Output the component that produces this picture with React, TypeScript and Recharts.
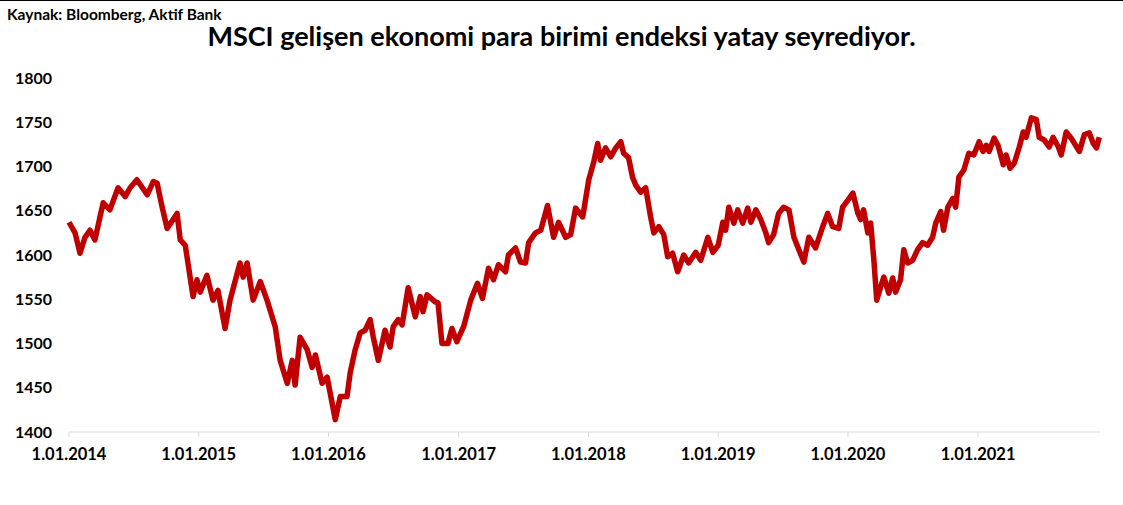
import { LineChart, Line, XAxis, YAxis } from "recharts"

const dates = [
  "2014-01-01", "2014-01-18", "2014-02-01", "2014-02-15", "2014-03-01", "2014-03-15", "2014-04-07", "2014-04-26",
  "2014-05-19", "2014-06-08", "2014-06-22", "2014-07-11", "2014-08-09", "2014-08-26", "2014-09-06", "2014-09-20",
  "2014-10-04", "2014-11-01", "2014-11-10", "2014-11-24", "2014-12-16", "2014-12-27",
  "2015-01-05", "2015-01-24", "2015-02-10", "2015-02-24", "2015-03-16", "2015-03-30", "2015-04-13", "2015-04-27",
  "2015-05-06", "2015-05-17", "2015-06-03", "2015-06-23", "2015-07-12", "2015-08-04", "2015-08-18", "2015-09-07",
  "2015-09-21", "2015-09-29", "2015-10-13", "2015-11-02", "2015-11-16", "2015-11-25", "2015-12-14", "2015-12-28",
  "2016-01-20", "2016-02-03", "2016-02-22", "2016-03-02", "2016-03-16", "2016-03-30", "2016-04-13", "2016-04-27",
  "2016-05-06", "2016-05-20", "2016-06-08", "2016-06-22", "2016-07-01", "2016-07-15", "2016-07-26", "2016-08-12",
  "2016-09-01", "2016-09-15", "2016-09-23", "2016-10-04", "2016-10-27", "2016-11-04", "2016-11-15", "2016-12-02",
  "2016-12-13", "2016-12-27",
  "2017-01-15", "2017-02-04", "2017-02-23", "2017-03-09", "2017-03-26", "2017-04-09", "2017-04-23", "2017-05-13",
  "2017-05-21", "2017-06-10", "2017-06-24", "2017-07-08", "2017-07-17", "2017-08-05", "2017-08-20", "2017-09-08",
  "2017-09-25", "2017-10-09", "2017-10-29", "2017-11-12", "2017-11-26", "2017-12-16",
  "2018-01-02", "2018-01-16", "2018-01-27", "2018-02-04", "2018-02-18", "2018-03-05", "2018-03-19", "2018-04-02",
  "2018-04-10", "2018-04-24", "2018-05-05", "2018-05-14", "2018-05-28", "2018-06-11", "2018-06-25", "2018-07-04",
  "2018-07-18", "2018-08-01", "2018-08-12", "2018-08-26", "2018-09-09", "2018-09-26", "2018-10-10", "2018-10-30",
  "2018-11-13", "2018-12-03", "2018-12-17",
  "2019-01-01", "2019-01-14", "2019-01-22", "2019-01-31", "2019-02-14", "2019-02-25", "2019-03-11", "2019-03-25",
  "2019-04-03", "2019-04-17", "2019-05-01", "2019-05-15", "2019-05-23", "2019-06-06", "2019-06-20", "2019-07-04",
  "2019-07-19", "2019-08-02", "2019-08-16", "2019-08-30", "2019-09-13", "2019-10-02", "2019-10-22", "2019-11-05",
  "2019-11-19", "2019-12-06", "2019-12-17",
  "2020-01-01", "2020-01-15", "2020-01-29", "2020-02-06", "2020-02-14", "2020-02-26", "2020-03-05", "2020-03-14",
  "2020-03-22", "2020-04-02", "2020-04-11", "2020-04-25", "2020-05-06", "2020-05-14", "2020-05-28", "2020-06-06",
  "2020-06-17", "2020-07-01", "2020-07-15", "2020-07-29", "2020-08-12", "2020-08-26", "2020-09-04", "2020-09-18",
  "2020-09-26", "2020-10-08", "2020-10-22", "2020-10-30", "2020-11-08", "2020-11-22", "2020-12-06", "2020-12-20",
  "2021-01-04", "2021-01-15", "2021-01-24", "2021-02-01", "2021-02-15", "2021-02-26", "2021-03-13", "2021-03-21",
  "2021-04-01", "2021-04-13", "2021-04-27", "2021-05-08", "2021-05-16", "2021-05-31", "2021-06-14", "2021-06-22",
  "2021-07-06", "2021-07-20", "2021-07-31", "2021-08-15", "2021-08-23", "2021-09-06", "2021-09-20", "2021-10-13",
  "2021-10-27", "2021-11-10", "2021-11-21", "2021-11-30", "2021-12-08",
]

const msciValues = [
  1637, 1625, 1602, 1620, 1628, 1617, 1659, 1651,
  1676, 1666, 1676, 1685, 1668, 1683, 1681, 1654,
  1630, 1647, 1617, 1611, 1553, 1572,
  1558, 1577, 1549, 1560, 1517, 1549, 1570, 1591,
  1575, 1591, 1549, 1570, 1549, 1519, 1481, 1455,
  1481, 1453, 1507, 1493, 1473, 1487, 1455, 1462,
  1414, 1440, 1440, 1467, 1493, 1512, 1515, 1527,
  1507, 1481, 1515, 1496, 1519, 1527, 1521, 1563,
  1530, 1553, 1536, 1555, 1547, 1546, 1500, 1500,
  1517, 1502,
  1519, 1549, 1568, 1551, 1585, 1572, 1589, 1581,
  1600, 1608, 1592, 1591, 1614, 1625, 1628, 1656,
  1620, 1637, 1620, 1623, 1653, 1643,
  1685, 1705, 1726, 1707, 1721, 1711, 1721, 1728,
  1715, 1710, 1688, 1679, 1671, 1676, 1643, 1625,
  1632, 1623, 1598, 1602, 1581, 1600, 1591, 1603,
  1594, 1620, 1603,
  1611, 1637, 1628, 1654, 1636, 1651, 1636, 1653,
  1637, 1651, 1640, 1625, 1614, 1623, 1647, 1654,
  1651, 1620, 1606, 1592, 1620, 1608, 1632, 1647,
  1632, 1630, 1654,
  1662, 1670, 1647, 1640, 1651, 1625, 1636, 1594,
  1549, 1564, 1575, 1557, 1574, 1558, 1572, 1606,
  1591, 1594, 1606, 1614, 1611, 1620, 1636, 1649,
  1628, 1654, 1664, 1654, 1688, 1696, 1715, 1713,
  1728, 1717, 1724, 1717, 1732, 1724, 1702, 1713,
  1698, 1704, 1722, 1739, 1733, 1755, 1753, 1733,
  1730, 1722, 1733, 1722, 1713, 1739, 1732, 1717,
  1736, 1738, 1726, 1721, 1733,
]

const tickYears = [2014, 2015, 2016, 2017, 2018, 2019, 2020, 2021]
const yTicks = [1400, 1450, 1500, 1550, 1600, 1650, 1700, 1750, 1800]

const data = dates.map((d, i) => ({ t: Date.parse(d), value: msciValues[i] }))
const xTicks = tickYears.map((y) => Date.UTC(y, 0, 1))

const font = "Lato, 'Noto Sans', sans-serif"

export default function App() {
  return (
    <div
      style={{
        position: "absolute",
        left: 0,
        top: 0,
        width: 1123,
        height: 505,
        background: "#fff",
        fontFamily: font,
        borderTop: "1px solid #000",
        boxSizing: "border-box",
      }}
    >
      <div style={{ position: "absolute", left: 7, top: 4, fontSize: 15.5, fontWeight: 700, color: "#000" }}>
        Kaynak: Bloomberg, Aktif Bank
      </div>
      <div
        style={{
          position: "absolute",
          left: 0,
          width: 1123,
          top: 18,
          textAlign: "center",
          fontSize: 27,
          fontWeight: 700,
          color: "#000",
        }}
      >
        MSCI gelişen ekonomi para birimi endeksi yatay seyrediyor.
      </div>
      <div style={{ position: "absolute", left: 0, top: -1 }}>
        <LineChart width={1123} height={505} data={data} margin={{ top: 78, right: 23, bottom: 33, left: 0 }}>
          <XAxis
            dataKey="t"
            type="number"
            scale="time"
            domain={[Date.UTC(2014, 0, 1), Date.UTC(2021, 11, 10)]}
            ticks={xTicks}
            tickFormatter={(v) => `1.01.${new Date(v).getUTCFullYear()}`}
            height={40}
            stroke="#d9d9d9"
            tickSize={5}
            tickMargin={11}
            tick={{ fill: "#000", fontSize: 16.5, fontWeight: 700, fontFamily: font }}
          />
          <YAxis
            domain={[1400, 1800]}
            ticks={yTicks}
            width={69}
            axisLine={false}
            tickLine={false}
            tickSize={0}
            tickMargin={17}
            tick={{ fill: "#000", fontSize: 16, fontWeight: 700, fontFamily: font }}
          />
          <Line
            type="linear"
            dataKey="value"
            stroke="#C00000"
            strokeWidth={5.5}
            strokeLinejoin="round"
            dot={false}
            isAnimationActive={false}
          />
        </LineChart>
      </div>
    </div>
  )
}
